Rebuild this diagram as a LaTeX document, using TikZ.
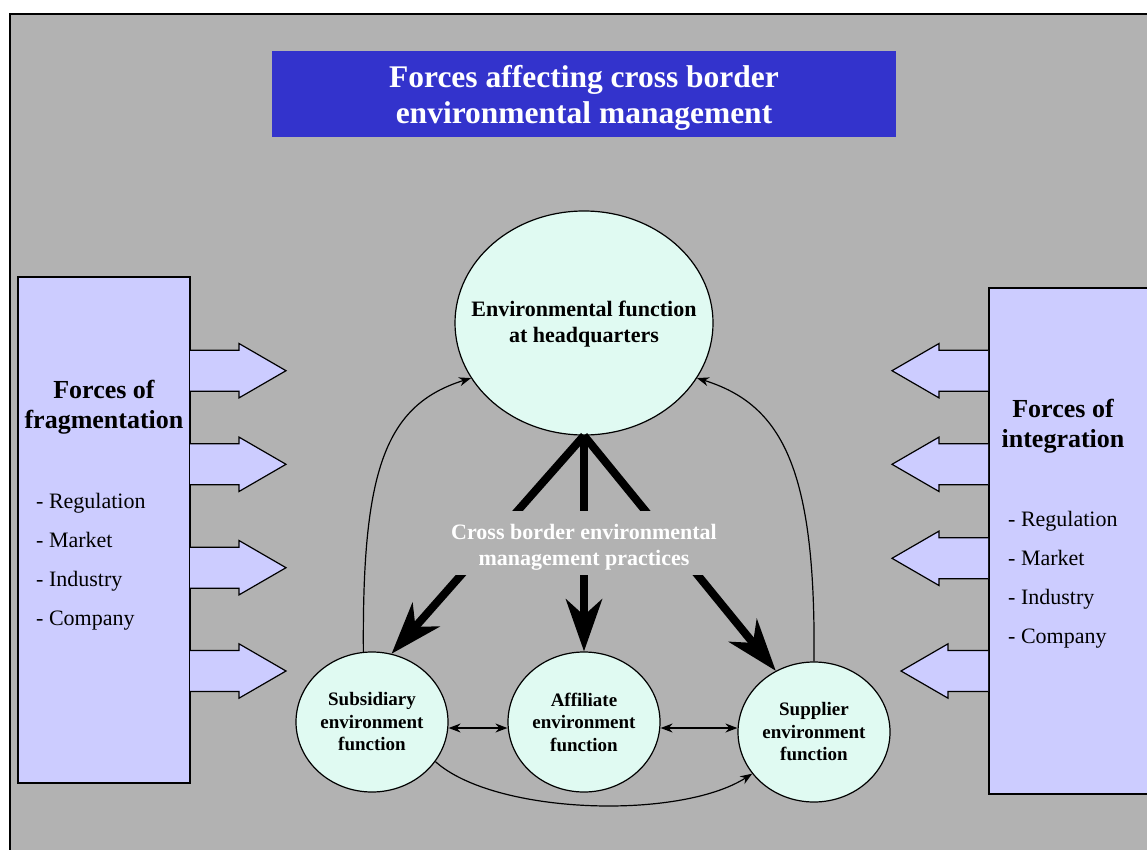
\documentclass[tikz,border=0pt]{standalone}
\usepackage{fontspec}
\setmainfont{Liberation Serif}
\usetikzlibrary{shapes.geometric,arrows.meta}

\definecolor{panelgray}{RGB}{178,178,178}
\definecolor{titleblue}{RGB}{51,51,204}
\definecolor{forcelilac}{RGB}{204,204,255}
\definecolor{funcmint}{RGB}{224,250,242}

\tikzset{
  funcnode/.style={ellipse,draw=black,line width=1.2pt,fill=funcmint,inner sep=0pt,align=center,
    font=\bfseries\fontsize{19}{22.5}\selectfont},
  forcebox/.style={draw=black,line width=1.5pt,fill=forcelilac,inner sep=0pt},
  blockarrow/.style={fill=forcelilac,draw=black,line width=1.2pt},
  practice/.style={line width=8pt,-{Stealth[length=52pt,width=36pt,inset=16pt]}},
  flow/.style={line width=1.2pt,-{Stealth[length=12pt,width=9pt]}},
  twoway/.style={line width=1.2pt,{Stealth[length=12pt,width=9pt]}-{Stealth[length=12pt,width=9pt]}},
  listitem/.style={anchor=base west,inner sep=0pt,font=\fontsize{22}{26}\selectfont},
  forcelabel/.style={align=center,inner sep=0pt,font=\bfseries\fontsize{26}{30}\selectfont}
}

\begin{document}
\begin{tikzpicture}[x=1pt,y=-1pt]
  \useasboundingbox (0,0) rectangle (1147,850);
  \fill[white] (0,0) rectangle (1147,850);
  \filldraw[fill=panelgray,draw=black,line width=2pt] (10,14) rectangle (1170,870);

  % title
  \node[fill=titleblue,minimum width=624pt,minimum height=86pt] (title) at (584,94) {};
  \node[text=white,align=center,font=\bfseries\fontsize{31.5}{36.7}\selectfont] (titletext)
    at ([yshift=-4pt]title.center) {Forces affecting cross border\\environmental management};

  % forces on both sides
  \node[forcebox,minimum width=172pt,minimum height=506pt] (frag) at (104,530) {};
  \node[forcebox,minimum width=190pt,minimum height=506pt,anchor=north west] (integ) at (988,287) {};
  \node[forcelabel] (fraglabel) at (104,407) {Forces of\\fragmentation};
  \node[forcelabel] (integlabel) at (1063,426) {Forces of\\integration};
  \foreach \force [count=\i] in {Regulation,Market,Industry,Company} {
    \node[listitem] (fragitem\i) at (36,469+39*\i) {- \force};
    \node[listitem] (integitem\i) at (1008,487+39*\i) {- \force};
  }

  % block arrows
  \foreach \y in {370.7,464.3,567.7,671}
    \filldraw[blockarrow] (190,\y-20.5) -- (239,\y-20.5) -- (239,\y-27.2) -- (286,\y)
      -- (239,\y+27.2) -- (239,\y+20.5) -- (190,\y+20.5);
  \foreach \y/\tip/\base in {370.7/892/939,464.3/892/939,558.3/892/939,671/901/948}
    \filldraw[blockarrow] (988,\y-20.5) -- (\base,\y-20.5) -- (\base,\y-27.2) -- (\tip,\y)
      -- (\base,\y+27.2) -- (\base,\y+20.5) -- (988,\y+20.5);

  % environmental functions
  \node[funcnode,minimum width=258pt,minimum height=224pt] (hq) at (584,323) {};
  \node[align=center,font=\bfseries\fontsize{22}{26}\selectfont] (hqtext) at ([yshift=-1pt]hq.center)
    {Environmental function\\at headquarters};
  \node[funcnode,minimum width=152pt,minimum height=140pt] (sub) at (372,722) {Subsidiary\\environment\\function};
  \node[funcnode,minimum width=152pt,minimum height=140pt] (aff) at (584,722) {Affiliate\\environment\\function};
  \node[funcnode,minimum width=152pt,minimum height=140pt] (sup) at (814,732) {Supplier\\environment\\function};

  % practices
  \draw[practice] (hq.south) -- (sub.74);
  \draw[practice] (hq.south) -- (aff.north);
  \draw[practice] (hq.south) -- (sup.122);
  \node[fill=panelgray,minimum width=280pt,minimum height=64pt] (cbemp) at (584,543) {};
  \node[text=white,align=center,font=\bfseries\fontsize{22}{25.7}\selectfont] (cbemptext)
    at ([yshift=-4pt]cbemp.center) {Cross border environmental\\management practices};

  % feedback
  \draw[flow] (sub.97) .. controls (362,470) and (385,405) .. (hq.206);
  \draw[flow] (sup.90) .. controls (816,470) and (783,405) .. (hq.-26);
  \draw[flow] (sub.-32) .. controls (495,815) and (680,820) .. (sup.214);
  \draw[twoway] ([yshift=-6pt]sub.east) -- ([yshift=-6pt]aff.west);
  \draw[twoway] ([yshift=-6pt]aff.east) -- ([yshift=4pt]sup.west);
\end{tikzpicture}
\end{document}
